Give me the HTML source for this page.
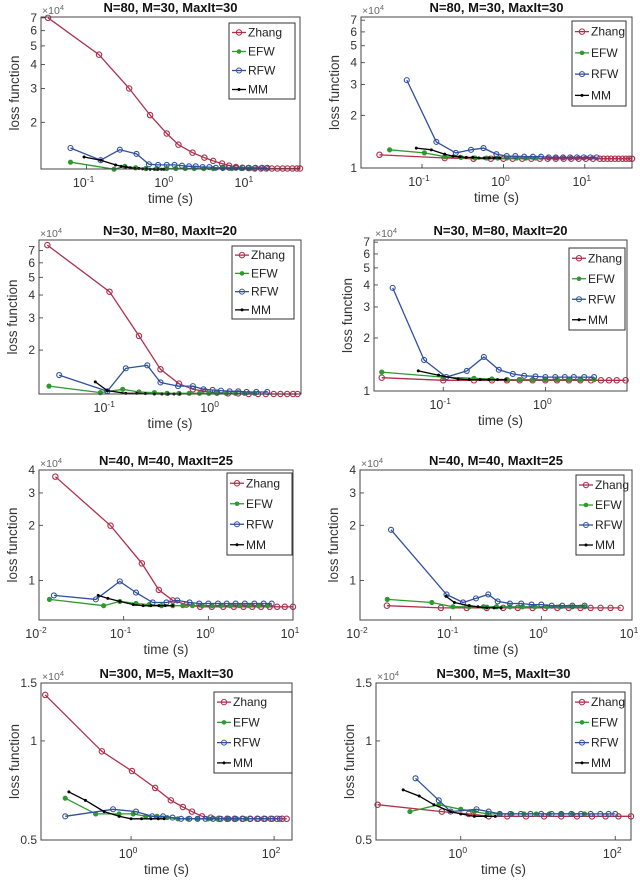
<!DOCTYPE html>
<html><head><meta charset="utf-8">
<style>
html,body{margin:0;padding:0;background:#fff;}
svg{display:block;font-family:"Liberation Sans",Arial,sans-serif;}
</style></head>
<body>
<svg id="fig" width="640" height="884" viewBox="0 0 640 884" xmlns="http://www.w3.org/2000/svg"></svg>
<script>
// ---- data (loss in units of 1e4, time in seconds) ----
const seriesNames = ["Zhang","EFW","RFW","MM"];
const p1_zhang_t=[0.033,0.143,0.34,0.62,1.0,1.4,2.1,2.95,3.8,4.9,6.0,7.3,8.8,10.5,12.5,15,17.5,20.5,24,28,32,37,42,46];
const p1_zhang_v=[7.0,4.5,3.0,2.18,1.75,1.53,1.39,1.31,1.26,1.22,1.19,1.17,1.16,1.155,1.15,1.15,1.15,1.15,1.15,1.15,1.15,1.15,1.15,1.15];
const p1_efw_t=[0.063,0.22,0.30,0.41,0.55,0.75,1.0,1.3,1.7,2.2,2.9,3.8,5,6.5,8.5,11];
const p1_efw_v=[1.24,1.14,1.18,1.16,1.15,1.15,1.15,1.15,1.15,1.15,1.15,1.15,1.15,1.15,1.15,1.15];
const p1_rfw_t=[0.063,0.15,0.26,0.42,0.6,0.78,1.0,1.25,1.55,1.9,2.3,2.8,3.4,4.1,5,6,7.3,8.8,10.6,12.8,15.5,18];
const p1_rfw_v=[1.47,1.27,1.44,1.37,1.21,1.2,1.2,1.2,1.19,1.18,1.18,1.17,1.17,1.16,1.16,1.16,1.16,1.16,1.16,1.16,1.16,1.16];
const p1_mm_t=[0.093,0.15,0.23,0.27,0.31,0.35,0.4,0.45,0.5,0.56,0.62,0.7,0.78,0.86,0.92];
const p1_mm_v=[1.32,1.27,1.2,1.18,1.17,1.16,1.15,1.15,1.145,1.145,1.14,1.14,1.14,1.14,1.14];

const p2_zhang_t=[0.03,0.19,0.43,0.7,1.0,1.3,1.7,2.2,2.8,3.5,4.4,5.5,6.8,8.4,10.3,12.6,15.3,17,19,21,23.5,26,29,32,35,38];
const p2_zhang_v=[1.19,1.14,1.13,1.13,1.13,1.13,1.13,1.13,1.13,1.13,1.13,1.13,1.13,1.13,1.13,1.13,1.13,1.13,1.13,1.13,1.13,1.13,1.13,1.13,1.13,1.13];
const p2_efw_t=[0.04,0.107,0.19,0.3,0.45,0.62,0.85,1.1,1.45,1.9,2.5];
const p2_efw_v=[1.27,1.22,1.16,1.15,1.14,1.14,1.14,1.14,1.14,1.14,1.14];
const p2_rfw_t=[0.065,0.15,0.26,0.4,0.57,0.82,1.1,1.4,1.8,2.3,2.9,3.6,4.4,5.4,6.6,8,9.7,11.7,14];
const p2_rfw_v=[3.18,1.41,1.22,1.27,1.3,1.2,1.17,1.17,1.16,1.16,1.16,1.15,1.15,1.15,1.15,1.15,1.15,1.15,1.15];
const p2_mm_t=[0.085,0.13,0.19,0.24,0.29,0.35,0.42,0.5,0.58,0.67,0.77,0.9];
const p2_mm_v=[1.3,1.27,1.2,1.17,1.16,1.15,1.15,1.14,1.14,1.14,1.14,1.14];

const p3_zhang_t=[0.027,0.105,0.2,0.32,0.48,0.65,0.85,1.1,1.4,1.75,2.2,2.7,3.2,3.8,4.4,5.1,5.8,6.4];
const p3_zhang_v=[7.5,4.17,2.39,1.57,1.31,1.22,1.19,1.17,1.16,1.16,1.15,1.15,1.15,1.15,1.15,1.15,1.15,1.15];
const p3_efw_t=[0.028,0.086,0.14,0.2,0.28,0.37,0.48,0.6,0.75,0.92,1.1,1.35,1.65,2.0,2.5];
const p3_efw_v=[1.27,1.17,1.22,1.18,1.17,1.16,1.16,1.16,1.16,1.16,1.16,1.16,1.16,1.16,1.16];
const p3_rfw_t=[0.035,0.1,0.15,0.24,0.32,0.47,0.65,0.82,1.0,1.2,1.45,1.75,2.1,2.6,3.3];
const p3_rfw_v=[1.46,1.19,1.59,1.65,1.33,1.27,1.27,1.22,1.21,1.2,1.19,1.19,1.18,1.18,1.18];
const p3_mm_t=[0.077,0.1,0.15,0.19,0.23,0.28,0.33,0.38,0.43,0.49];
const p3_mm_v=[1.34,1.2,1.16,1.16,1.155,1.15,1.15,1.15,1.15,1.15];

const p4_zhang_t=[0.025,0.1,0.2,0.3,0.42,0.56,0.75,1.0,1.3,1.7,2.2,2.8,3.5,4.2,5.0,6.1];
const p4_zhang_v=[1.19,1.15,1.15,1.15,1.15,1.15,1.15,1.15,1.15,1.15,1.15,1.15,1.15,1.15,1.15,1.15];
const p4_efw_t=[0.025,0.1,0.2,0.3,0.42,0.56,0.75,1.0,1.3,1.7,2.2,3.0];
const p4_efw_v=[1.28,1.2,1.18,1.17,1.16,1.16,1.16,1.16,1.16,1.16,1.16,1.16];
const p4_rfw_t=[0.032,0.065,0.107,0.17,0.25,0.35,0.48,0.62,0.8,1.0,1.25,1.55,1.9,2.4,3.0];
const p4_rfw_v=[3.85,1.5,1.2,1.3,1.56,1.32,1.25,1.22,1.21,1.2,1.2,1.2,1.2,1.2,1.2];
const p4_mm_t=[0.057,0.09,0.14,0.18,0.23,0.28,0.34,0.41];
const p4_mm_v=[1.3,1.23,1.17,1.16,1.16,1.16,1.16,1.16];

const p5_zhang_t=[0.0156,0.07,0.164,0.26,0.38,0.55,0.8,1.1,1.5,2.0,2.6,3.3,4.2,5.3,6.5,8,10];
const p5_zhang_v=[3.68,1.99,1.24,0.89,0.78,0.74,0.72,0.72,0.72,0.72,0.72,0.72,0.72,0.72,0.72,0.72,0.72];
const p5_efw_t=[0.0133,0.058,0.09,0.14,0.2,0.28,0.38,0.5,0.65,0.85,1.1,1.4,1.8,2.3,3,3.9,5];
const p5_efw_v=[0.79,0.73,0.77,0.75,0.74,0.73,0.73,0.73,0.73,0.73,0.73,0.73,0.73,0.73,0.73,0.73,0.73];
const p5_rfw_t=[0.015,0.047,0.09,0.14,0.22,0.32,0.43,0.6,0.78,1.0,1.3,1.65,2.1,2.7,3.5,4.5,5.6];
const p5_rfw_v=[0.83,0.79,0.99,0.86,0.76,0.76,0.78,0.76,0.75,0.75,0.75,0.75,0.75,0.75,0.75,0.75,0.75];
const p5_mm_t=[0.05,0.065,0.09,0.13,0.17,0.21,0.26,0.31,0.38];
const p5_mm_v=[0.83,0.8,0.77,0.74,0.73,0.73,0.73,0.73,0.73];

const p6_zhang_t=[0.0198,0.078,0.15,0.25,0.38,0.55,0.8,1.1,1.5,2.0,2.7,3.5,4.5,5.8,7.5];
const p6_zhang_v=[0.73,0.71,0.71,0.71,0.71,0.71,0.71,0.71,0.71,0.71,0.71,0.71,0.71,0.71,0.71];
const p6_efw_t=[0.02,0.062,0.106,0.16,0.23,0.32,0.45,0.62,0.85,1.15,1.6,2.2,3];
const p6_efw_v=[0.79,0.76,0.72,0.72,0.72,0.72,0.72,0.72,0.72,0.72,0.72,0.72,0.72];
const p6_rfw_t=[0.022,0.09,0.137,0.19,0.26,0.33,0.45,0.6,0.78,1.0,1.3,1.7,2.2,3.0];
const p6_rfw_v=[1.89,0.84,0.76,0.8,0.84,0.77,0.75,0.75,0.74,0.74,0.73,0.73,0.73,0.73];
const p6_mm_t=[0.089,0.11,0.16,0.2,0.25,0.3,0.36];
const p6_mm_v=[0.82,0.76,0.73,0.72,0.71,0.71,0.71];

const p7_zhang_t=[0.063,0.39,1.03,2.17,3.6,5.3,7.1,9.8,13,17,22,28,36,46,58,72,90,110,130,150];
const p7_zhang_v=[1.38,0.93,0.81,0.72,0.66,0.63,0.61,0.59,0.585,0.58,0.58,0.58,0.58,0.58,0.58,0.58,0.58,0.58,0.58,0.58];
const p7_efw_t=[0.12,0.32,0.68,1.07,1.6,2.3,3.2,4.5,6.2,8.5,12,16,22,30,40];
const p7_efw_v=[0.67,0.6,0.6,0.6,0.59,0.59,0.585,0.58,0.58,0.58,0.58,0.58,0.58,0.58,0.58];
const p7_rfw_t=[0.12,0.56,1.17,1.97,2.8,3.8,5,6.5,8.5,11,14,18,23,29,37,47,60,75,95,120];
const p7_rfw_v=[0.59,0.62,0.61,0.59,0.59,0.585,0.58,0.58,0.58,0.58,0.58,0.58,0.58,0.58,0.58,0.58,0.58,0.58,0.58,0.58];
const p7_mm_t=[0.135,0.23,0.42,0.68,1.0,1.4,1.9,2.4,2.9];
const p7_mm_v=[0.7,0.66,0.61,0.59,0.58,0.58,0.58,0.58,0.58];

const p8_zhang_t=[0.084,0.57,1.27,2.3,4,7,12,20,32,50,75,110,160];
const p8_zhang_v=[0.64,0.61,0.6,0.59,0.59,0.59,0.59,0.59,0.59,0.59,0.59,0.59,0.59];
const p8_efw_t=[0.22,0.52,1.0,1.5,2.2,3.2,4.6,6.6,9.5,14,20,28,40];
const p8_efw_v=[0.61,0.64,0.62,0.61,0.6,0.6,0.6,0.6,0.6,0.6,0.6,0.6,0.6];
const p8_rfw_t=[0.26,0.52,0.74,1.6,2.3,3.2,4.4,6,8,11,15,20,27,36,48,64,82,100];
const p8_rfw_v=[0.77,0.66,0.61,0.62,0.61,0.6,0.6,0.6,0.6,0.6,0.6,0.6,0.6,0.6,0.6,0.6,0.6,0.6];
const p8_mm_t=[0.18,0.29,0.45,0.74,1.0,1.5,2.1,2.8];
const p8_mm_v=[0.71,0.68,0.64,0.61,0.6,0.59,0.59,0.59];

const titles=["N=80, M=30, MaxIt=30","N=80, M=30, MaxIt=30","N=30, M=80, MaxIt=20","N=30, M=80, MaxIt=20","N=40, M=40, MaxIt=25","N=40, M=40, MaxIt=25","N=300, M=5, MaxIt=30","N=300, M=5, MaxIt=30"];
const yTicks1=[2,3,4,5,6,7];
const yTicks2=[1,2,3,4,5,6,7];
const yTicks3=[1,2,3,4];
const yTicks4=[0.5,1,1.5];

const COLORS=["#b0304c","#2e9a2e","#2f4f9f","#000000"];
const panels=[
 {L:41,R:300,T:17,B:169,x0:0.027,x1:46,y0:1.143,y1:7.07,xt:[-1,0,1],yt:yTicks1,lg:[229,23,295,99],data:[[p1_zhang_t,p1_zhang_v],[p1_efw_t,p1_efw_v],[p1_rfw_t,p1_rfw_v],[p1_mm_t,p1_mm_v]]},
 {L:361,R:632,T:17,B:168,x0:0.0178,x1:38,y0:1,y1:7.3,xt:[-1,0,1],yt:yTicks2,lg:[572,21,626,106],data:[[p2_zhang_t,p2_zhang_v],[p2_efw_t,p2_efw_v],[p2_rfw_t,p2_rfw_v],[p2_mm_t,p2_mm_v]]},
 {L:39,R:301,T:240,B:394,x0:0.0225,x1:6.9,y0:1.15,y1:8.0,xt:[-1,0],yt:yTicks1,lg:[232,246,294,319],data:[[p3_zhang_t,p3_zhang_v],[p3_efw_t,p3_efw_v],[p3_rfw_t,p3_rfw_v],[p3_mm_t,p3_mm_v]]},
 {L:374,R:627,T:240,B:391,x0:0.021,x1:6.3,y0:1,y1:7.2,xt:[-1,0],yt:yTicks2,lg:[569,248,625,330],data:[[p4_zhang_t,p4_zhang_v],[p4_efw_t,p4_efw_v],[p4_rfw_t,p4_rfw_v],[p4_mm_t,p4_mm_v]]},
 {L:39,R:293,T:470,B:620,x0:0.01,x1:10,y0:0.61,y1:4,xt:[-2,-1,0,1],yt:yTicks3,lg:[227,473,292,555],data:[[p5_zhang_t,p5_zhang_v],[p5_efw_t,p5_efw_v],[p5_rfw_t,p5_rfw_v],[p5_mm_t,p5_mm_v]]},
 {L:360,R:632,T:470,B:620,x0:0.01,x1:10,y0:0.61,y1:4,xt:[-2,-1,0,1],yt:yTicks3,lg:[576,475,624,555],data:[[p6_zhang_t,p6_zhang_v],[p6_efw_t,p6_efw_v],[p6_rfw_t,p6_rfw_v],[p6_mm_t,p6_mm_v]]},
 {L:41,R:292,T:683,B:840,x0:0.055,x1:178,y0:0.5,y1:1.5,xt:[0,2],yt:yTicks4,lg:[214,692,292,773],data:[[p7_zhang_t,p7_zhang_v],[p7_efw_t,p7_efw_v],[p7_rfw_t,p7_rfw_v],[p7_mm_t,p7_mm_v]]},
 {L:376,R:631,T:683,B:840,x0:0.08,x1:160,y0:0.5,y1:1.5,xt:[0,2],yt:yTicks4,lg:[572,692,625,773],data:[[p8_zhang_t,p8_zhang_v],[p8_efw_t,p8_efw_v],[p8_rfw_t,p8_rfw_v],[p8_mm_t,p8_mm_v]]}
];

const NS="http://www.w3.org/2000/svg";
const svg=document.getElementById('fig');
function mk(tag,attrs,parent){const e=document.createElementNS(NS,tag);for(const k in attrs)e.setAttribute(k,attrs[k]);(parent||svg).appendChild(e);return e;}
function fmt(v){return String(v);}

panels.forEach((p,i)=>{
  const g=mk('g',{});
  
  
  const lx0=Math.log10(p.x0),lx1=Math.log10(p.x1),ly0=Math.log10(p.y0),ly1=Math.log10(p.y1);
  const X=t=>p.L+(Math.log10(t)-lx0)/(lx1-lx0)*(p.R-p.L);
  const Y=v=>p.B-(Math.log10(v)-ly0)/(ly1-ly0)*(p.B-p.T);
  const cx=(p.L+p.R)/2;
  const tt=mk('text',{x:cx,y:p.T-5,'text-anchor':'middle','font-size':'13','font-weight':'bold',fill:'#111'},g);
  tt.textContent=titles[i];
  
  
  const ex=mk('text',{x:p.L+1,y:p.T-3,'font-size':'10.5',fill:'#666'},g);
  
  
  ex.innerHTML='×10<tspan dy="-4" font-size="7.5">4</tspan>';
  p.xt.forEach(e=>{
    const x=X(Math.pow(10,e));
    const tk=mk('line',{x1:x,x2:x,y1:p.B,y2:p.B-4,stroke:'#333','stroke-width':0.8},g);
    
    
    const lb=mk('text',{x:x-3,y:p.B+18,'text-anchor':'middle','font-size':'12.5',fill:'#333'},g);
    
    
    lb.innerHTML='10<tspan dy="-5" font-size="8.5">'+(e<0?'-':'')+Math.abs(e)+'</tspan>';
  });
  p.yt.forEach(v=>{
    const y=Y(v);
    const tk=mk('line',{x1:p.L,x2:p.L+4,y1:y,y2:y,stroke:'#333','stroke-width':0.8},g);
    
    
    const lb=mk('text',{x:p.L-4,y:y+4,'text-anchor':'end','font-size':'12',fill:'#333'},g);
    lb.textContent=fmt(v);
    
    
  });
  const xl=mk('text',{x:cx,y:p.B+34,'text-anchor':'middle','font-size':'13.5',fill:'#333'},g);
  xl.textContent='time (s)';
  
  
  const yl=mk('text',{x:0,y:0,'text-anchor':'middle','font-size':'13.5',fill:'#333',transform:'translate('+(p.L-22)+','+((p.T+p.B)/2)+') rotate(-90)'},g);
  yl.textContent='loss function';
  
  
  p.data.forEach((s,si)=>{
    const col=COLORS[si];
    const pts=s[0].map((t,k)=>X(t).toFixed(1)+','+Y(s[1][k]).toFixed(1)).join(' ');
    const sg=mk('g',{},g);
    
    
    const pl=mk('polyline',{points:pts,fill:'none',stroke:col,'stroke-width':1.3},sg);
    
    
    s[0].forEach((t,k)=>{
      const x=X(t),y=Y(s[1][k]);
      let m;
      if(si===0) m=mk('circle',{cx:x,cy:y,r:2.7,fill:'none',stroke:col,'stroke-width':1.1},sg);
      else if(si===1) m=mk('circle',{cx:x,cy:y,r:2.3,fill:col,stroke:col,'stroke-width':0.6},sg);
      else if(si===2) m=mk('circle',{cx:x,cy:y,r:2.5,fill:'none',stroke:col,'stroke-width':1.1},sg);
      else m=mk('circle',{cx:x,cy:y,r:1.5,fill:col},sg);
      
      
    });
  });
  const bx=mk('rect',{x:p.L,y:p.T,width:p.R-p.L,height:p.B-p.T,fill:'none',stroke:'#444','stroke-width':1},g);
  
  
  const [a,b,c,d]=p.lg;
  const lgG=mk('g',{},g);
  
  
  mk('rect',{x:a,y:b,width:c-a,height:d-b,fill:'#fff',stroke:'#333','stroke-width':1},lgG);
  const step=(d-b)/4;
  seriesNames.forEach((nm,si)=>{
    const y=b+step*(si+0.5);
    const col=COLORS[si];
    const le=mk('g',{},lgG);
    
    
    mk('line',{x1:a+3,x2:a+17,y1:y,y2:y,stroke:col,'stroke-width':1.3},le);
    if(si===0) mk('circle',{cx:a+10,cy:y,r:2.7,fill:'none',stroke:col},le);
    else if(si===1) mk('circle',{cx:a+10,cy:y,r:2.3,fill:col},le);
    else if(si===2) mk('circle',{cx:a+10,cy:y,r:2.5,fill:'none',stroke:col},le);
    else mk('circle',{cx:a+10,cy:y,r:1.5,fill:col},le);
    const tx=mk('text',{x:a+19,y:y+4,'font-size':'12',fill:'#222'},le);
    tx.textContent=nm;
  });
});
</script>
</body></html>
